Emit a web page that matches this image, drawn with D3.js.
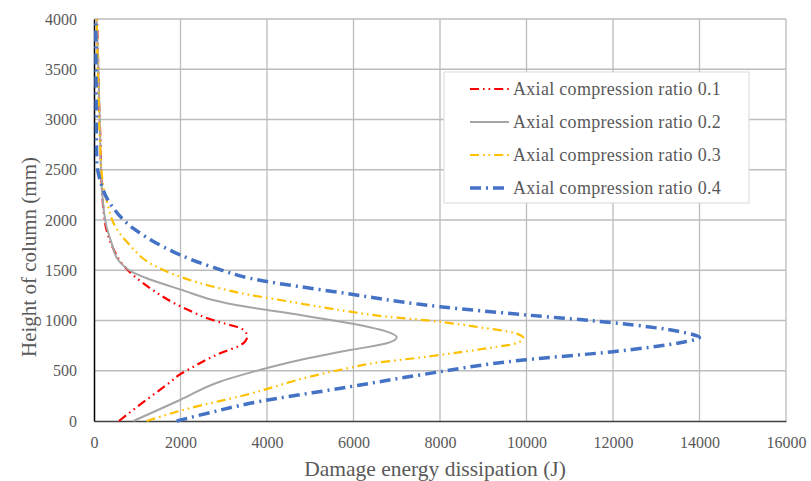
<!DOCTYPE html>
<html lang="en">
<head>
<meta charset="utf-8">
<title>Damage energy dissipation</title>
<script src="https://d3js.org/d3.v7.min.js"></script>
<style>
  body { margin: 0; background: #fff; }
  text { font-family: "Liberation Serif", "DejaVu Serif", serif; fill: #595959; }
</style>
</head>
<body>
<script>
var w = 811, h = 481;
var margin = {left: 94, right: 25, top: 19, bottom: 60};

var seriesNames = ["Axial compression ratio 0.1", "Axial compression ratio 0.2",
                   "Axial compression ratio 0.3", "Axial compression ratio 0.4"];
var xTicks = [0, 2000, 4000, 6000, 8000, 10000, 12000, 14000, 16000];
var yTicks = [0, 500, 1000, 1500, 2000, 2500, 3000, 3500, 4000];

// heights (mm) and energies (J)
var h01 = [0, 142, 242, 391, 458, 524, 614, 690, 739, 789, 840, 873, 922, 972, 1022, 1078, 1164, 1300, 1450, 1570, 1720, 1900, 2100, 2330, 2550, 2800, 3000, 3500, 4000];
var e01 = [578, 1000, 1310, 1773, 1965, 2235, 2620, 3006, 3313, 3490, 3540, 3522, 3392, 3006, 2620, 2312, 1889, 1370, 910, 640, 440, 290, 220, 180, 160, 150, 130, 100, 70];

var h02 = [0, 209, 391, 481, 607, 706, 773, 833, 889, 972, 1055, 1131, 1171, 1310, 1420, 1486, 1602, 1768, 1934, 2331, 2865, 3525, 4000];
var e02 = [909, 1990, 2910, 3607, 4763, 5919, 6770, 7000, 6770, 5919, 4763, 3607, 3070, 1990, 1220, 870, 560, 410, 290, 180, 140, 100, 60];

var h03 = [0, 126, 259, 441, 524, 574, 640, 733, 766, 823, 879, 932, 998, 1038, 1088, 1204, 1254, 1320, 1436, 1552, 1768, 1900, 2199, 2331, 2766, 3300, 4000];
var e03 = [1220, 2200, 3500, 5000, 5850, 6450, 7700, 9230, 9700, 9930, 9700, 8920, 7768, 6770, 5919, 4300, 3607, 2910, 1990, 1370, 790, 540, 290, 215, 139, 100, 60];

var h04 = [0, 83, 176, 341, 458, 607, 690, 779, 830, 889, 978, 1055, 1137, 1161, 1264, 1420, 1529, 1652, 1734, 1917, 2165, 2398, 2597, 3200, 4000];
var e04 = [1910, 2680, 3607, 5919, 7537, 9930, 12000, 13550, 14000, 13550, 12000, 10000, 8000, 7537, 5919, 3607, 2760, 1990, 1600, 910, 370, 139, 62, 50, 40];

var heights = [h01, h02, h03, h04];
var energies = [e01, e02, e03, e04];
var colors = ["#FF0000", "#A5A5A5", "#FFC000", "#4472C4"];
var widths = [2.2, 2, 2.2, 3.5];
var dashes = ["9,4,1.6,4,1.6,4", null, "9,4,1.6,4,1.6,4", "11,5,2,5"];

var svg = d3.select("body").append("svg")
    .attr("width", w)
    .attr("height", h);

var x = d3.scaleLinear().domain([0, 16000]).range([margin.left, w - margin.right]);
var y = d3.scaleLinear().domain([0, 4000]).range([h - margin.bottom, margin.top]);

// grid
svg.append("g").selectAll("line").data(xTicks.slice(1)).enter().append("line")
    .attr("x1", function(d) { return x(d); }).attr("x2", function(d) { return x(d); })
    .attr("y1", y(0)).attr("y2", y(4000))
    .attr("stroke", "#bcbcbc").attr("stroke-width", 1.3);
svg.append("g").selectAll("line").data(yTicks.slice(1)).enter().append("line")
    .attr("x1", x(0)).attr("x2", x(16000))
    .attr("y1", function(d) { return y(d); }).attr("y2", function(d) { return y(d); })
    .attr("stroke", "#bcbcbc").attr("stroke-width", 1.3);

// axes
var xAxis = svg.append("g").attr("transform", "translate(0," + y(0) + ")")
    .call(d3.axisBottom(x).tickValues(xTicks).tickSize(0).tickPadding(16).tickFormat(d3.format("d")));
xAxis.select(".domain").attr("stroke", "#404040").attr("stroke-width", 1.5);
xAxis.selectAll("text").style("font-size", "16px").attr("fill", "#595959");

var yAxis = svg.append("g").attr("transform", "translate(" + x(0) + ",0)")
    .call(d3.axisLeft(y).tickValues(yTicks).tickSize(0).tickPadding(17).tickFormat(d3.format("d")));
yAxis.select(".domain").attr("stroke", "#000").attr("stroke-width", 1.5);
yAxis.selectAll("text").style("font-size", "16px").attr("fill", "#595959");

// axis titles
svg.append("text")
    .attr("x", 435).attr("y", 476)
    .attr("text-anchor", "middle")
    .style("font-size", "21.5px")
    .text("Damage energy dissipation (J)");
svg.append("text")
    .attr("transform", "translate(36,257) rotate(-90)")
    .attr("text-anchor", "middle")
    .style("font-size", "21px")
    .text("Height of column (mm)");

// curves
var line = d3.line()
    .x(function(d) { return x(d[1]); })
    .y(function(d) { return y(d[0]); })
    .curve(d3.curveMonotoneY);

heights.forEach(function(hs, i) {
    var pts = hs.map(function(v, j) { return [v, energies[i][j]]; });
    svg.append("path")
        .datum(pts)
        .attr("d", line)
        .attr("fill", "none")
        .attr("stroke", colors[i])
        .attr("stroke-width", widths[i])
        .attr("stroke-dasharray", dashes[i]);
});

// legend
var lg = svg.append("g");
lg.append("rect")
    .attr("x", 444).attr("y", 72).attr("width", 305).attr("height", 131)
    .attr("fill", "#fff").attr("stroke", "#d9d9d9").attr("stroke-width", 1);
seriesNames.forEach(function(name, i) {
    var ly = 89 + i * 33;
    lg.append("line")
        .attr("x1", 470).attr("x2", 509).attr("y1", ly).attr("y2", ly)
        .attr("stroke", colors[i])
        .attr("stroke-width", widths[i])
        .attr("stroke-dasharray", dashes[i]);
    lg.append("text")
        .attr("x", 513).attr("y", ly + 6)
        .style("font-size", "18px")
        .style("letter-spacing", "0.3px")
        .text(name);
});
</script>
</body>
</html>
